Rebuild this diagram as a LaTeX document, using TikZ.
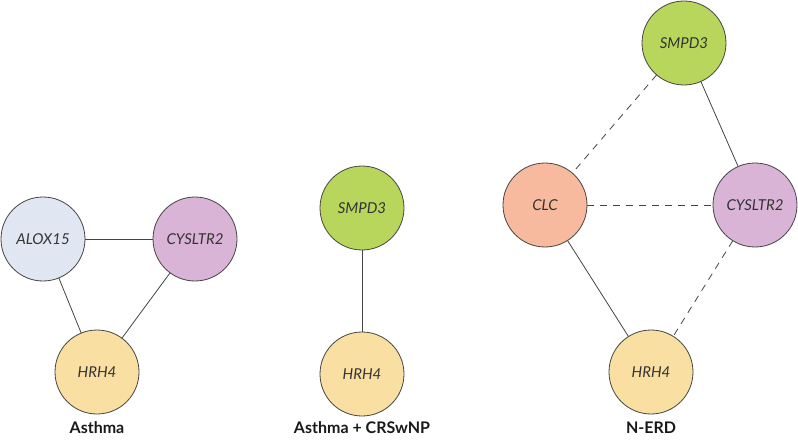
\documentclass[tikz,border=0pt]{standalone}
\usepackage{fontspec}
\setmainfont{Lato}
\definecolor{cAlox}{HTML}{E1E7F2}
\definecolor{cCys}{HTML}{D9B4D6}
\definecolor{cHrh}{HTML}{F9DFA2}
\definecolor{cSmpd}{HTML}{B9D65C}
\definecolor{cClc}{HTML}{F7BA9F}
\definecolor{cLine}{HTML}{444444}
\definecolor{cText}{HTML}{333333}
\begin{document}
\begin{tikzpicture}[x=1pt,y=1pt,
  gene/.style={circle,draw=cLine,line width=0.8pt,minimum size=84pt,inner sep=0pt,outer sep=0pt,
    font=\fontsize{15}{18}\selectfont\itshape,text=cText},
  link/.style={draw=cLine,line width=0.8pt},
  dlink/.style={link,dash pattern=on 7pt off 6pt},
  title/.style={font=\fontsize{16}{19}\selectfont\bfseries,text=black!90}]
\useasboundingbox (0,0) rectangle (798,440);
% Asthma
\node[gene,fill=cAlox] (alox) at (43,201) {ALOX15};
\node[gene,fill=cCys] (cysA) at (195,201) {CYSLTR2};
\node[gene,fill=cHrh] (hrhA) at (97,68) {HRH4};
\draw[link] (alox) -- (cysA);
\draw[link] (alox) -- (hrhA);
\draw[link] (cysA) -- (hrhA);
\node[title] (tA) at (97,12) {Asthma};
% Asthma + CRSwNP
\node[gene,fill=cSmpd] (smpdB) at (362,232) {SMPD3};
\node[gene,fill=cHrh] (hrhB) at (362,66) {HRH4};
\draw[link] (smpdB) -- (hrhB);
\node[title] (tB) at (362,12) {Asthma + CRSwNP};
% N-ERD
\node[gene,fill=cSmpd] (smpdC) at (684,397) {SMPD3};
\node[gene,fill=cClc] (clc) at (545,235) {CLC};
\node[gene,fill=cCys] (cysC) at (755,235) {CYSLTR2};
\node[gene,fill=cHrh] (hrhC) at (651,68) {HRH4};
\draw[dlink] (smpdC) -- (clc);
\draw[link] (smpdC) -- (cysC);
\draw[dlink] (clc) -- (cysC);
\draw[link] (clc) -- (hrhC);
\draw[dlink] (cysC) -- (hrhC);
\node[title] (tC) at (651,12) {N-ERD};
\end{tikzpicture}
\end{document}
